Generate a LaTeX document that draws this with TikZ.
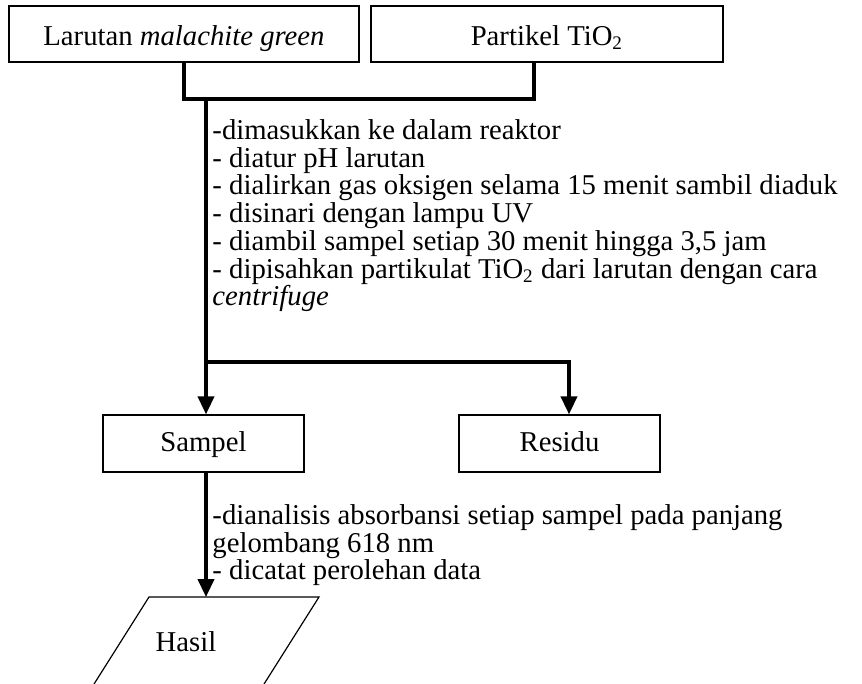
\documentclass[tikz,border=0pt]{standalone}
\usepackage{fontspec}
\setmainfont{Liberation Serif}
\usepackage{tikz}
\usetikzlibrary{arrows.meta,calc}
\newcommand{\pxu}{0.418pt}

\begin{document}
\begin{tikzpicture}[x=0.418pt,y=-0.418pt,
  every node/.style={font=\fontsize{12pt}{11.6pt}\selectfont},
  kotak/.style={draw,line width=0.6pt,minimum height=56*\pxu,inner sep=0pt,text height=10.6pt,text depth=1pt},
  kotakb/.style={kotak,minimum width=201*\pxu,minimum height=57*\pxu,text height=9pt,text depth=1.9pt},
  garis/.style={line width=1.3pt},
  panah/.style={garis,-{Triangle[length=7.5pt,width=6.8pt]}},
  ket/.style={align=left,inner sep=0pt,anchor=north west}]
\useasboundingbox (0,0) rectangle (862,684);
\clip (0,0) rectangle (862,684);
% bahan awal
\node[kotak,minimum width=350*\pxu] (larutan) at (184,34) {Larutan \textit{malachite green}};
\node[kotak,minimum width=352*\pxu] (partikel) at (547,34) {Partikel TiO\textsubscript{2}};
\coordinate (gabung) at (206,99);
\coordinate (ujungB) at (534,99);
\draw[garis] (larutan.south) -- (larutan.south |- gabung) -- (ujungB) -- (ujungB |- partikel.south);
% perlakuan
\node[ket] (proses) at (212,119) {-dimasukkan ke dalam reaktor\\
- diatur pH larutan\\
- dialirkan gas oksigen selama 15 menit sambil diaduk\\
- disinari dengan lampu UV\\
- diambil sampel setiap 30 menit hingga 3,5 jam\\
- dipisahkan partikulat TiO\textsubscript{2} dari larutan dengan cara\\
\textit{centrifuge}};
% hasil pemisahan
\node[kotakb] (sampel) at (203.5,443.5) {Sampel};
\node[kotakb] (residu) at (559.5,443.5) {Residu};
\coordinate (cabang) at (206,362);
\draw[panah] (gabung) -- (gabung |- sampel.north);
\draw[panah] (cabang) -| ([xshift=9.5*\pxu]residu.north);
% analisis
\node[ket] (analisis) at (212,504) {-dianalisis absorbansi setiap sampel pada panjang\\
gelombang 618 nm\\
- dicatat perolehan data};
\coordinate (hasilatas) at (149,597);
\draw[line width=0.5pt] (hasilatas) -- (319,597) -- (259,692) -- (89,692) -- cycle;
\node[inner sep=0pt] (hasil) at (186,642) {Hasil};
\draw[panah] (gabung |- sampel.south) -- (gabung |- hasilatas);
\end{tikzpicture}
\end{document}
